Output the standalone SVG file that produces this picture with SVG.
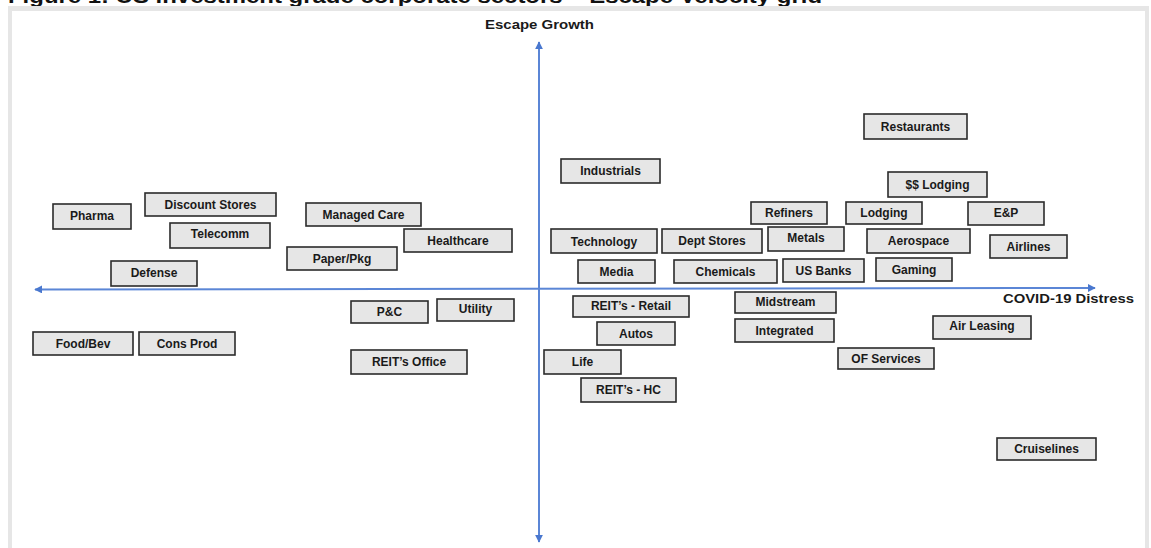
<svg xmlns="http://www.w3.org/2000/svg" width="1151" height="548" viewBox="0 0 1151 548">
<style>
.box{fill:#e6e6e6;stroke:#2b2b2b;stroke-width:1.6}
.lbl{font-family:"Liberation Sans",Arial,sans-serif;font-weight:bold;font-size:12px;fill:#1a1a1a;text-anchor:middle}
.axl{font-family:"Liberation Sans",Arial,sans-serif;font-weight:bold;fill:#1a1a1a}
.axis{stroke:#5b86d6;stroke-width:2;fill:none}
</style>
<defs>
<marker id="ah" viewBox="0 0 10 10" refX="9" refY="5" markerWidth="4" markerHeight="4" orient="auto-start-reverse" markerUnits="strokeWidth">
<path d="M0,0 L10,5 L0,10 z" fill="#4a78cf"/>
</marker>
</defs>
<rect x="0" y="0" width="1151" height="548" fill="#ffffff"/>
<text x="8" y="3" font-family="Liberation Sans,Arial,sans-serif" font-weight="bold" font-size="20" fill="#111" textLength="814" lengthAdjust="spacingAndGlyphs">Figure 1: US investment grade corporate sectors – Escape Velocity grid</text>
<rect x="8" y="6" width="1141" height="5" fill="#e6e6e6"/>
<rect x="8" y="6" width="4" height="542" fill="#e6e6e6"/>
<rect x="1145" y="6" width="4" height="542" fill="#e6e6e6"/>

<g id="connectors">
<line class="axis" x1="1095" y1="288" x2="35" y2="289.5" marker-start="url(#ah)" marker-end="url(#ah)"/>
<line class="axis" x1="539" y1="42" x2="539" y2="542" marker-start="url(#ah)" marker-end="url(#ah)"/>
</g>

<g id="axis-labels">
<text class="axl" x="485" y="29" font-size="12.5" textLength="109" lengthAdjust="spacingAndGlyphs">Escape Growth</text>
<text class="axl" x="1003" y="303" font-size="12.5" textLength="131" lengthAdjust="spacingAndGlyphs">COVID-19 Distress</text>
</g>

<g id="n-restaurants"><rect class="box" x="864" y="114" width="103" height="25"/><text class="lbl" x="915.5" y="130.5">Restaurants</text></g>
<g id="n-industrials"><rect class="box" x="561" y="159" width="99" height="24"/><text class="lbl" x="610.5" y="175">Industrials</text></g>
<g id="n-ss-lodging"><rect class="box" x="888" y="172" width="99" height="25"/><text class="lbl" x="937.5" y="188.5">$$ Lodging</text></g>
<g id="n-pharma"><rect class="box" x="53" y="204" width="78" height="25"/><text class="lbl" x="92" y="220">Pharma</text></g>
<g id="n-discount-stores"><rect class="box" x="145" y="193" width="131" height="23"/><text class="lbl" x="210.5" y="208.5">Discount Stores</text></g>
<g id="n-managed-care"><rect class="box" x="306" y="203" width="115" height="23"/><text class="lbl" x="363.5" y="218.5">Managed Care</text></g>
<g id="n-refiners"><rect class="box" x="751" y="202" width="76" height="22"/><text class="lbl" x="789" y="216.5">Refiners</text></g>
<g id="n-lodging"><rect class="box" x="846" y="202" width="76" height="22"/><text class="lbl" x="884" y="216.5">Lodging</text></g>
<g id="n-ep"><rect class="box" x="968" y="202" width="76" height="23"/><text class="lbl" x="1006" y="217">E&amp;P</text></g>
<g id="n-telecomm"><rect class="box" x="170" y="223" width="100" height="25"/><text class="lbl" x="220" y="238">Telecomm</text></g>
<g id="n-healthcare"><rect class="box" x="404" y="229" width="108" height="23"/><text class="lbl" x="458" y="244.5">Healthcare</text></g>
<g id="n-technology"><rect class="box" x="551" y="229" width="106" height="24"/><text class="lbl" x="604" y="245.5">Technology</text></g>
<g id="n-dept-stores"><rect class="box" x="662" y="229" width="100" height="24"/><text class="lbl" x="712" y="245">Dept Stores</text></g>
<g id="n-metals"><rect class="box" x="768" y="227" width="76" height="24"/><text class="lbl" x="806" y="242">Metals</text></g>
<g id="n-aerospace"><rect class="box" x="867" y="229" width="103" height="24"/><text class="lbl" x="918.5" y="244.5">Aerospace</text></g>
<g id="n-airlines"><rect class="box" x="990" y="235" width="77" height="23"/><text class="lbl" x="1028.5" y="250.5">Airlines</text></g>
<g id="n-paper-pkg"><rect class="box" x="287" y="247" width="110" height="23"/><text class="lbl" x="342" y="262.5">Paper/Pkg</text></g>
<g id="n-defense"><rect class="box" x="111" y="261" width="86" height="25"/><text class="lbl" x="154" y="277">Defense</text></g>
<g id="n-media"><rect class="box" x="578" y="260" width="77" height="23"/><text class="lbl" x="616.5" y="275.5">Media</text></g>
<g id="n-chemicals"><rect class="box" x="674" y="260" width="103" height="23"/><text class="lbl" x="725.5" y="275.5">Chemicals</text></g>
<g id="n-us-banks"><rect class="box" x="783" y="259" width="81" height="23"/><text class="lbl" x="823.5" y="274.5">US Banks</text></g>
<g id="n-gaming"><rect class="box" x="876" y="258" width="76" height="23"/><text class="lbl" x="914" y="273.5">Gaming</text></g>
<g id="n-pc"><rect class="box" x="351" y="301" width="77" height="22"/><text class="lbl" x="389.5" y="316">P&amp;C</text></g>
<g id="n-utility"><rect class="box" x="437" y="299" width="77" height="22"/><text class="lbl" x="475.5" y="312.5">Utility</text></g>
<g id="n-reits-retail"><rect class="box" x="573" y="296" width="116" height="21"/><text class="lbl" x="631" y="310">REIT’s - Retail</text></g>
<g id="n-midstream"><rect class="box" x="735" y="292" width="101" height="21"/><text class="lbl" x="785.5" y="306">Midstream</text></g>
<g id="n-integrated"><rect class="box" x="735" y="319" width="99" height="23"/><text class="lbl" x="784.5" y="334.5">Integrated</text></g>
<g id="n-autos"><rect class="box" x="597" y="322" width="78" height="23"/><text class="lbl" x="636" y="337.5">Autos</text></g>
<g id="n-air-leasing"><rect class="box" x="933" y="316" width="98" height="23"/><text class="lbl" x="982" y="330">Air Leasing</text></g>
<g id="n-food-bev"><rect class="box" x="33" y="332" width="100" height="23"/><text class="lbl" x="83" y="347.5">Food/Bev</text></g>
<g id="n-cons-prod"><rect class="box" x="139" y="332" width="96" height="23"/><text class="lbl" x="187" y="347.5">Cons Prod</text></g>
<g id="n-reits-office"><rect class="box" x="351" y="350" width="116" height="24"/><text class="lbl" x="409" y="366">REIT’s Office</text></g>
<g id="n-life"><rect class="box" x="544" y="350" width="77" height="24"/><text class="lbl" x="582.5" y="366">Life</text></g>
<g id="n-of-services"><rect class="box" x="838" y="348" width="96" height="21"/><text class="lbl" x="886" y="362.5">OF Services</text></g>
<g id="n-reits-hc"><rect class="box" x="581" y="378" width="95" height="24"/><text class="lbl" x="628.5" y="394">REIT’s - HC</text></g>
<g id="n-cruiselines"><rect class="box" x="997" y="438" width="99" height="22"/><text class="lbl" x="1046.5" y="453">Cruiselines</text></g>
</svg>
